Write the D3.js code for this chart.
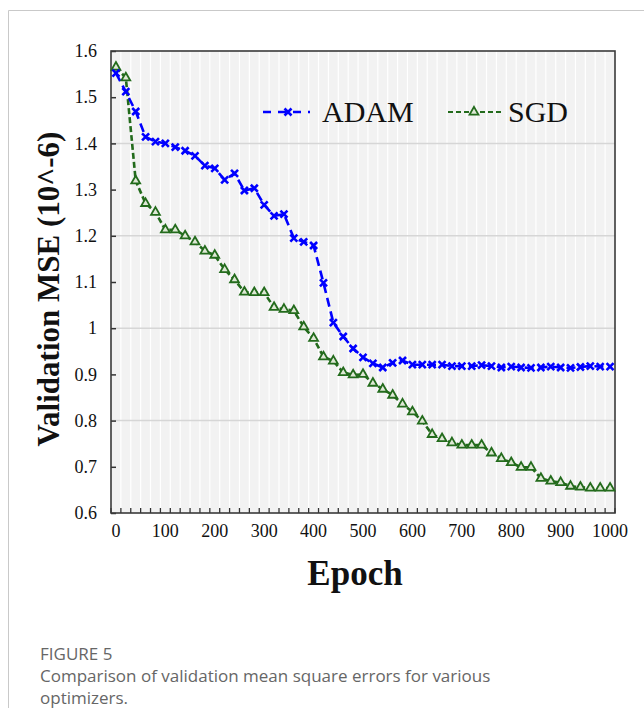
<!DOCTYPE html>
<html>
<head>
<meta charset="utf-8">
<script src="https://cdn.jsdelivr.net/npm/d3@7"></script>
<style>
  body { margin: 0; background: #fff; }
  svg { display: block; }
</style>
</head>
<body>
<svg width="644" height="708"></svg>
<script>
// epochs (one point every 20 epochs)
const epochs = [0, 20, 40, 60, 80, 100, 120, 140, 160, 180, 200, 220, 240, 260, 280, 300,
  320, 340, 360, 380, 400, 420, 440, 460, 480, 500, 520, 540, 560, 580, 600, 620, 640,
  660, 680, 700, 720, 740, 760, 780, 800, 820, 840, 860, 880, 900, 920, 940, 960, 980, 1000];

const adam = [1.552, 1.512, 1.469, 1.414, 1.404, 1.400, 1.392, 1.384, 1.373, 1.352, 1.346,
  1.321, 1.335, 1.298, 1.303, 1.267, 1.243, 1.247, 1.195, 1.187, 1.179, 1.098, 1.012,
  0.982, 0.956, 0.937, 0.924, 0.915, 0.925, 0.930, 0.921, 0.921, 0.921, 0.921, 0.918,
  0.918, 0.918, 0.920, 0.918, 0.915, 0.917, 0.915, 0.914, 0.915, 0.917, 0.915, 0.914,
  0.916, 0.918, 0.917, 0.917];

const sgd = [1.565, 1.542, 1.319, 1.270, 1.251, 1.213, 1.213, 1.200, 1.187, 1.167, 1.158,
  1.127, 1.105, 1.078, 1.077, 1.077, 1.045, 1.041, 1.038, 1.003, 0.978, 0.938, 0.929,
  0.904, 0.899, 0.900, 0.881, 0.868, 0.855, 0.836, 0.819, 0.799, 0.770, 0.761, 0.752,
  0.747, 0.747, 0.747, 0.730, 0.718, 0.709, 0.699, 0.699, 0.675, 0.669, 0.666, 0.658,
  0.656, 0.654, 0.654, 0.654];

const xLabels = [0, 100, 200, 300, 400, 500, 600, 700, 800, 900, 1000];
const yTicks = [0.6, 0.7, 0.8, 0.9, 1.0, 1.1, 1.2, 1.3, 1.4, 1.5, 1.6];
const yGrid = [0.8, 1.0, 1.2, 1.4];

const blue = "#0000ff";
const green = "#236b1c";
const serif = "'Liberation Serif', 'Times New Roman', serif";

var svg = d3.select("svg");

// figure frame (top + left border of the page box)
svg.append("path")
  .attr("d", "M644,10.5H8.5V708")
  .attr("fill", "none")
  .attr("stroke", "#c9c9c9")
  .attr("stroke-width", 1);

// plot area box
const pLeft = 111, pRight = 615, pTop = 51, pBottom = 513;

var x = d3.scaleBand().domain(epochs).range([pLeft, pRight]).paddingInner(0).paddingOuter(0);
var y = d3.scaleLinear().domain([0.6, 1.6]).range([pBottom, pTop]);
const cx = (d) => x(d) + x.bandwidth() / 2;

const g = svg.append("g");

// plot background
g.append("rect")
  .attr("x", pLeft).attr("y", pTop)
  .attr("width", pRight - pLeft).attr("height", pBottom - pTop)
  .attr("fill", "#f2f2f2");

// white vertical stripes at category boundaries
g.selectAll(".vgrid")
  .data(epochs.slice(1))
  .enter()
  .append("line")
  .attr("class", "vgrid")
  .attr("x1", (d) => x(d)).attr("x2", (d) => x(d))
  .attr("y1", pTop).attr("y2", pBottom)
  .attr("stroke", "#ffffff")
  .attr("stroke-width", 1.2);

// horizontal gridlines
g.selectAll(".hgrid")
  .data(yGrid)
  .enter()
  .append("line")
  .attr("class", "hgrid")
  .attr("x1", pLeft).attr("x2", pRight)
  .attr("y1", (d) => y(d)).attr("y2", (d) => y(d))
  .attr("stroke", "#d6d6d6")
  .attr("stroke-width", 1.5);

// y axis
var yAxis = d3.axisLeft(y)
  .tickValues(yTicks)
  .tickSize(-5)
  .tickPadding(14)
  .tickFormat((d) => String(+d.toFixed(1)));

var yg = svg.append("g").attr("transform", "translate(" + pLeft + ",0)").call(yAxis);
yg.select(".domain").remove();
yg.selectAll(".tick line").attr("stroke", "#333").attr("stroke-width", 1.5);
yg.selectAll(".tick text")
  .attr("font-family", serif)
  .attr("font-size", 18)
  .attr("fill", "#111");

// x axis: minor ticks at category edges, labels every 100 epochs
var xEdges = epochs.map((d) => x(d)).concat([pRight]);
svg.append("g")
  .selectAll("line")
  .data(xEdges)
  .enter()
  .append("line")
  .attr("x1", (d) => d).attr("x2", (d) => d)
  .attr("y1", pBottom).attr("y2", pBottom - 5)
  .attr("stroke", "#333")
  .attr("stroke-width", 1.3);

svg.append("g")
  .selectAll("text")
  .data(xLabels)
  .enter()
  .append("text")
  .attr("x", (d) => cx(d))
  .attr("y", 537)
  .attr("text-anchor", "middle")
  .attr("font-family", serif)
  .attr("font-size", 18)
  .attr("fill", "#111")
  .text((d) => d);

// plot frame
svg.append("rect")
  .attr("x", pLeft).attr("y", pTop)
  .attr("width", pRight - pLeft).attr("height", pBottom - pTop)
  .attr("fill", "none")
  .attr("stroke", "#3a3a3a")
  .attr("stroke-width", 1.6);

// lines
var line = d3.line().x((d, i) => cx(epochs[i])).y((d) => y(d));

svg.append("path")
  .datum(sgd)
  .attr("d", line)
  .attr("fill", "none")
  .attr("stroke", green)
  .attr("stroke-width", 2.6)
  .attr("stroke-dasharray", "6,3");

svg.append("path")
  .datum(adam)
  .attr("d", line)
  .attr("fill", "none")
  .attr("stroke", blue)
  .attr("stroke-width", 2.6)
  .attr("stroke-dasharray", "9,5");

// markers
const xMark = "M-3.5,-3.5L3.5,3.5M-3.5,3.5L3.5,-3.5";
var tri = d3.symbol().type(d3.symbolTriangle).size(34);

svg.append("g")
  .selectAll("path")
  .data(sgd)
  .enter()
  .append("path")
  .attr("transform", (d, i) => "translate(" + cx(epochs[i]) + "," + y(d) + ")")
  .attr("d", tri)
  .attr("fill", "#dfe8d6")
  .attr("stroke", green)
  .attr("stroke-width", 1.8);

svg.append("g")
  .selectAll("path")
  .data(adam)
  .enter()
  .append("path")
  .attr("transform", (d, i) => "translate(" + cx(epochs[i]) + "," + y(d) + ")")
  .attr("d", xMark)
  .attr("fill", "none")
  .attr("stroke", blue)
  .attr("stroke-width", 2.6);

// legend
var lg = svg.append("g");
lg.append("line")
  .attr("x1", 263).attr("x2", 310).attr("y1", 112).attr("y2", 112)
  .attr("stroke", blue).attr("stroke-width", 2.6).attr("stroke-dasharray", "8,7");
lg.append("path")
  .attr("transform", "translate(288,112)")
  .attr("d", xMark)
  .attr("fill", "none").attr("stroke", blue).attr("stroke-width", 2.6);
lg.append("text")
  .attr("x", 322).attr("y", 122)
  .attr("font-family", serif).attr("font-size", 30).attr("fill", "#111")
  .text("ADAM");

lg.append("line")
  .attr("x1", 448).attr("x2", 504).attr("y1", 112).attr("y2", 112)
  .attr("stroke", green).attr("stroke-width", 2.2).attr("stroke-dasharray", "5,3");
lg.append("path")
  .attr("transform", "translate(474,112)")
  .attr("d", tri)
  .attr("fill", "#dfe8d6").attr("stroke", green).attr("stroke-width", 1.8);
lg.append("text")
  .attr("x", 508).attr("y", 122)
  .attr("font-family", serif).attr("font-size", 30).attr("fill", "#111")
  .text("SGD");

// axis titles
svg.append("text")
  .attr("transform", "translate(59,289) rotate(-90)")
  .attr("text-anchor", "middle")
  .attr("font-family", serif)
  .attr("font-size", 31)
  .attr("font-weight", "bold")
  .attr("fill", "#111")
  .text("Validation MSE (10^-6)");

svg.append("text")
  .attr("x", 355).attr("y", 585)
  .attr("text-anchor", "middle")
  .attr("font-family", serif)
  .attr("font-size", 35)
  .attr("font-weight", "bold")
  .attr("fill", "#111")
  .text("Epoch");

// caption
svg.append("text")
  .attr("x", 40).attr("y", 660)
  .attr("font-family", "'Open Sans', sans-serif")
  .attr("font-size", 17)
  .attr("fill", "#666")
  .text("FIGURE 5");

svg.append("text")
  .attr("x", 40).attr("y", 682)
  .attr("font-family", "'Open Sans', sans-serif")
  .attr("font-size", 17)
  .attr("fill", "#666")
  .text("Comparison of validation mean square errors for various");

svg.append("text")
  .attr("x", 40).attr("y", 704)
  .attr("font-family", "'Open Sans', sans-serif")
  .attr("font-size", 17)
  .attr("fill", "#666")
  .text("optimizers.");
</script>
</body>
</html>
